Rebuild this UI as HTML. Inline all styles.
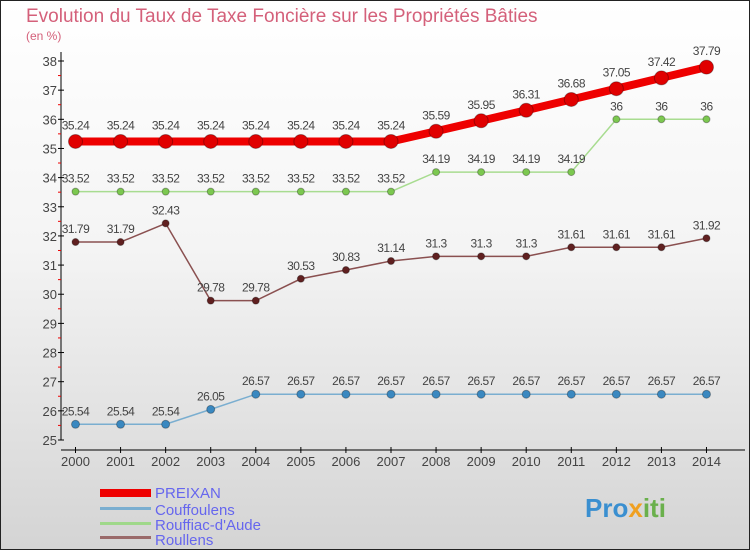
<!DOCTYPE html>
<html><head><meta charset="utf-8"><style>
body{margin:0}
svg{display:block;font-family:"Liberation Sans",sans-serif}
</style></head><body>
<svg width="750" height="550" viewBox="0 0 750 550">
<defs>
<linearGradient id="bg" x1="0" y1="0" x2="0" y2="1"><stop offset="0" stop-color="#ffffff"/><stop offset="0.45" stop-color="#f4f4f4"/><stop offset="1" stop-color="#d4d4d4"/></linearGradient>
</defs>
<rect x="0.5" y="0.5" width="749" height="549" fill="url(#bg)" stroke="#222"/>
<text x="26" y="22" font-size="19" fill="#d4607a">Evolution du Taux de Taxe Foncière sur les Propriétés Bâties</text>
<text x="26" y="40" font-size="12" fill="#d4607a">(en %)</text>
<g id="axes"></g>
<g id="series"></g>
<g>
<rect x="100" y="489" width="51" height="8" fill="#e00"/>
<text x="155" y="498" font-size="15" fill="#6666ee">PREIXAN</text>
<rect x="100" y="507" width="51" height="3" fill="#7aaed0"/>
<text x="155" y="515" font-size="15" fill="#6666ee">Couffoulens</text>
<rect x="100" y="522" width="51" height="3" fill="#9fd88a"/>
<text x="155" y="530" font-size="15" fill="#6666ee">Rouffiac-d'Aude</text>
<rect x="100" y="536" width="51" height="3" fill="#9a6a6a"/>
<text x="155" y="545" font-size="15" fill="#6666ee">Roullens</text>
</g>
<text x="585" y="517" font-size="26" font-weight="bold"><tspan fill="#3a8fd0">Pro</tspan><tspan fill="#f0a020">x</tspan><tspan fill="#6ab04c">iti</tspan></text>
</svg>
<script>
const years=[2000,2001,2002,2003,2004,2005,2006,2007,2008,2009,2010,2011,2012,2013,2014];
const yTicks=[25,26,27,28,29,30,31,32,33,34,35,36,37,38];
const preixan=[35.24,35.24,35.24,35.24,35.24,35.24,35.24,35.24,35.59,35.95,36.31,36.68,37.05,37.42,37.79];
const couffoulens=[25.54,25.54,25.54,26.05,26.57,26.57,26.57,26.57,26.57,26.57,26.57,26.57,26.57,26.57,26.57];
const rouffiac=[33.52,33.52,33.52,33.52,33.52,33.52,33.52,33.52,34.19,34.19,34.19,34.19,36,36,36];
const roullens=[31.79,31.79,32.43,29.78,29.78,30.53,30.83,31.14,31.3,31.3,31.3,31.61,31.61,31.61,31.92];
const NS="http://www.w3.org/2000/svg";
const xS=i=>75.5+i*45.07;
const yS=v=>440-(v-25)*(379/13);
function mk(tag,attrs,parent){const e=document.createElementNS(NS,tag);for(const k in attrs)e.setAttribute(k,attrs[k]);parent.appendChild(e);return e;}
const ax=document.getElementById('axes');
const yl=mk('line',{x1:61,y1:52,x2:61,y2:440,stroke:'#000'},ax);


const xl=mk('line',{x1:61,y1:450,x2:745,y2:450,stroke:'#000'},ax);


yTicks.forEach(v=>{
  const y=yS(v);
  mk('line',{x1:58,y1:y,x2:64,y2:y,stroke:'#000'},ax);
  if(v<38) mk('line',{x1:58,y1:y-14.6,x2:61,y2:y-14.6,stroke:'#e00'},ax);
  const t=mk('text',{x:57,y:y+5,'font-size':13,fill:'#444','text-anchor':'end'},ax);
  t.textContent=v;
  
  
});
years.forEach((yr,i)=>{
  const x=xS(i);
  mk('line',{x1:x,y1:447,x2:x,y2:453,stroke:'#000'},ax);
  const t=mk('text',{x:x,y:466,'font-size':13,fill:'#444','text-anchor':'middle'},ax);
  t.textContent=yr;
  
  
});
const sg=document.getElementById('series');
function series(vals,name,color,dot,lw,r){
  const g=mk('g',{},sg);
  
  
  const pts=vals.map((v,i)=>xS(i)+','+yS(v)).join(' ');
  mk('polyline',{points:pts,fill:'none',stroke:color,'stroke-width':lw},g);
  vals.forEach((v,i)=>{
    const c=mk('circle',{cx:xS(i),cy:yS(v),r:r,fill:dot,stroke:'rgba(0,0,0,0.3)','stroke-width':1},g);
    
    
    const t=mk('text',{x:xS(i),y:yS(v)-9-(r>5?3:0),'font-size':12,fill:'#444','text-anchor':'middle','letter-spacing':'-0.5'},g);
    t.textContent=v;
    
    
  });
}
series(couffoulens,'couffoulens','#7aaed0','#3a88c0',1.5,4);
series(rouffiac,'rouffiac','#a8dc90','#7cc850',1.5,3.5);
series(roullens,'roullens','#8a5050','#602020',1.5,3.5);
series(preixan,'preixan','#ee0000','#e00000',8,7);
</script>
</body></html>
